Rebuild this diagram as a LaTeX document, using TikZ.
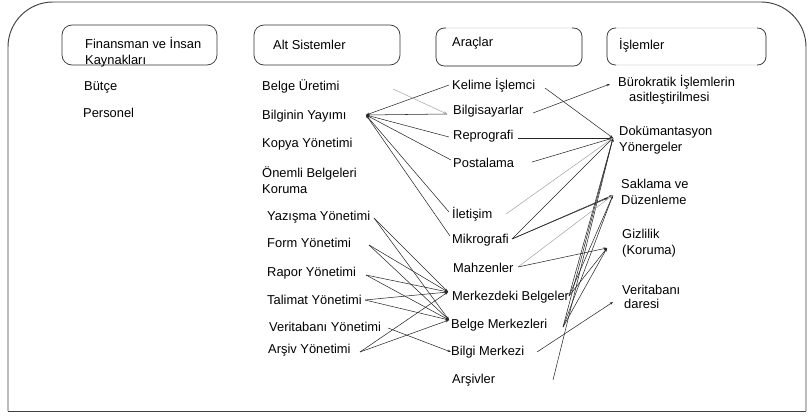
\documentclass[tikz,border=0pt]{standalone}
\usepackage{fontspec}
\setmainfont{Liberation Sans}
\usetikzlibrary{arrows.meta}

\tikzset{
  yazi/.style={anchor=west, inner sep=0pt, align=left, font=\fontsize{11}{13.6}\selectfont},
  kutu/.style={draw=black!80, line width=0.6pt, rounded corners=3mm},
  silik/.style={draw=black!15, line width=0.6pt, rounded corners=2.5mm},
  parantez/.style={draw=black!80, line width=0.6pt, rounded corners=2.5mm},
  bag/.style={draw=black!85, line width=0.45pt, -{Stealth[length=3pt,width=2.2pt]}},
  soluk/.style={bag, draw=black!35},
}

\begin{document}
\begin{tikzpicture}[x=0.3mm, y=-0.3mm]
  \useasboundingbox (0,0) rectangle (809,415);
  % Cerceve
  \draw[black!75, line width=0.8pt, rounded corners=13.5mm] (8,411) -- (8,2) -- (806,2) -- (806,411);
  \draw[black!75, line width=0.8pt] (8,411) -- (806,411);

  % Basliklar
  \draw[kutu] (62,25) rectangle (217,65);
  \draw[kutu] (254,25) rectangle (400,65);
  \draw[silik] (436,28) rectangle (582,66);
  \draw[parantez] (446,28) -- (436,28) -- (436,66) -- (582,66) -- (582,28) -- (572,28);
  \draw[silik] (607,28) rectangle (766,65);
  \draw[parantez] (616,28) -- (607,28) -- (607,65) -- (616,65);
  \draw[parantez] (757,28) -- (766,28) -- (766,65) -- (757,65);
  \node[yazi] (finansman) at (85,52) {Finansman ve İnsan\\Kaynakları};
  \node[yazi] (altsis) at (273,45) {Alt Sistemler};
  \node[yazi] (araclar) at (452,43) {Araçlar};
  \node[yazi] (islemler) at (619,45) {İşlemler};

  % Finansman
  \node[yazi] (butce) at (84,87) {Bütçe};
  \node[yazi] (personel) at (83,113) {Personel};

  % Alt sistemler
  \node[yazi] (uretim) at (262,86) {Belge Üretimi};
  \node[yazi] (yayim) at (262,116) {Bilginin Yayımı};
  \node[yazi] (kopya) at (262,144) {Kopya Yönetimi};
  \node[yazi] (onemli) at (262,180) {Önemli Belgeleri\\Koruma};
  \node[yazi] (yazisma) at (267,217) {Yazışma Yönetimi};
  \node[yazi] (form) at (267,243) {Form Yönetimi};
  \node[yazi] (rapor) at (267,273) {Rapor Yönetimi};
  \node[yazi] (talimat) at (267,300) {Talimat Yönetimi};
  \node[yazi] (vtyon) at (269,327) {Veritabanı Yönetimi};
  \node[yazi] (arsivyon) at (268,350) {Arşiv Yönetimi};

  % Araclar
  \node[yazi] (kelime) at (452,85) {Kelime İşlemci};
  \node[yazi] (bilgisayar) at (453,111) {Bilgisayarlar};
  \node[yazi] (reprografi) at (453,136) {Reprografi};
  \node[yazi] (postalama) at (453,163) {Postalama};
  \node[yazi] (iletisim) at (452,214) {İletişim};
  \node[yazi] (mikrografi) at (452,240) {Mikrografi};
  \node[yazi] (mahzen) at (453,268) {Mahzenler};
  \node[yazi] (merkezdeki) at (452,297) {Merkezdeki Belgeler};
  \node[yazi] (belgemerk) at (451,325) {Belge Merkezleri};
  \node[yazi] (bilgimerk) at (451,352) {Bilgi Merkezi};
  \node[yazi] (arsivler) at (452,380) {Arşivler};

  % Islemler
  \node[yazi] (burokratik) at (618,82) {Bürokratik İşlemlerin};
  \node[yazi] (basit) at (629,98) {asitleştirilmesi};
  \node[yazi] (dokuman) at (619,140) {Dokümantasyon\\Yönergeler};
  \node[yazi] (saklama) at (621,192) {Saklama ve\\Düzenleme};
  \node[yazi] (gizlilik) at (622,243) {Gizlilik\\(Koruma)};
  \node[yazi] (veritabani) at (622,290) {Veritabanı};
  \node[yazi] (idaresi) at (624,304) {daresi};

  % Uc noktalari
  \coordinate (yayimH) at (366,115);
  \coordinate (uretH) at (393,89);
  \coordinate (kelL) at (449,85);    \coordinate (kelR) at (545,88);
  \coordinate (bilgL) at (447,114);  \coordinate (bilgR) at (533,113);
  \coordinate (repL) at (449,137);   \coordinate (repR) at (518,138);
  \coordinate (posL) at (451,160);   \coordinate (posR) at (532,162);
  \coordinate (iletL) at (449,212);  \coordinate (iletR) at (506,214);
  \coordinate (mikL) at (450,236);   \coordinate (mikR) at (512,239);
  \coordinate (mahR) at (518,267);
  \coordinate (merkL) at (448,292);  \coordinate (merkR) at (569,296);
  \coordinate (bmL) at (449,320);    \coordinate (bmR) at (563,327);
  \coordinate (bilgiL) at (451,352); \coordinate (bilgiR) at (537,352);
  \coordinate (arsR) at (553,380);
  \coordinate (burH) at (610,84);
  \coordinate (dokH) at (613,138);
  \coordinate (sakH) at (613,195);
  \coordinate (gizH) at (607,248);
  \coordinate (verH) at (613,302);
  \coordinate (yazR) at (374,218);
  \coordinate (formR) at (369,245);
  \coordinate (rapR) at (366,275);
  \coordinate (talR) at (365,300);
  \coordinate (vtyR) at (388,328);
  \coordinate (arsivR) at (360,352);

  % Bilginin yayimi
  \foreach \u in {kelL,bilgL,repL,posL,iletL,mikL}
    \draw[bag] (\u) -- (yayimH);
  \draw[soluk] (uretH) -- (bilgL);

  % Islemlere baglar
  \foreach \u in {kelR,repR,posR,mikR,merkR,bmR,arsR}
    \draw[bag] (\u) -- (dokH);
  \draw[soluk] (iletR) -- (dokH);
  \draw[bag] (bilgR) -- (burH);
  \foreach \u in {mikR,merkR,bmR}
    \draw[bag] (\u) -- (sakH);
  \draw[bag] (mikR) -- (608,198);
  \draw[soluk] (mahR) -- (sakH);
  \foreach \u in {mahR,merkR,bmR}
    \draw[bag] (\u) -- (gizH);
  \draw[bag] (bilgiR) -- (verH);

  % Alt sistemlerden merkezlere
  \foreach \u in {yazR,formR,rapR,talR,arsivR} {
    \draw[bag] (\u) -- (merkL);
    \draw[bag] (\u) -- (bmL);
  }
  \draw[bag] (vtyR) -- (bilgiL);
\end{tikzpicture}
\end{document}
